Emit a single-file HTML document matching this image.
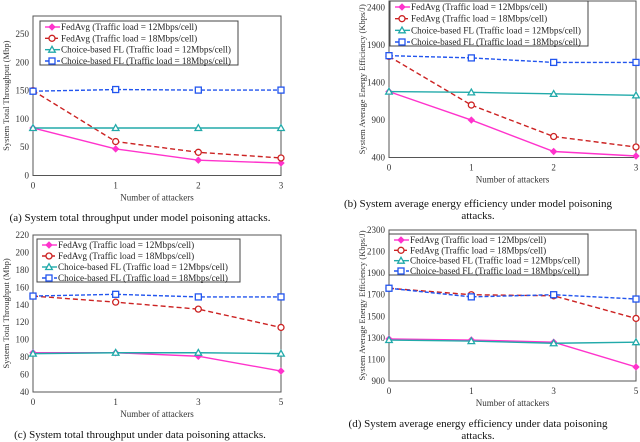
<!DOCTYPE html>
<html><head><meta charset="utf-8"><style>
body{margin:0;background:#fff}
svg{display:block;font-family:"Liberation Serif",serif}
</style></head><body>
<svg id="s" width="640" height="442" viewBox="0 0 640 442"></svg>
<script>
const cats01=["0","1","2","3"];
const cats02=["0","1","3","5"];
const aF12=[84,47,27,22], aF18=[150,60,41,31], aC12=[84,84,84,84], aC18=[149,152,151,151];
const bF12=[1280,900,480,420], bF18=[1750,1100,680,540], bC12=[1280,1270,1250,1230], bC18=[1760,1730,1670,1670];
const cF12=[85,85,81,64], cF18=[150,143,135,114], cC12=[84,85,85,84], cC18=[150,152,149,149];
const dF12=[1290,1280,1260,1030], dF18=[1760,1700,1690,1480], dC12=[1280,1270,1250,1260], dC18=[1760,1680,1700,1660];
const aTicks=[0,50,100,150,200,250], bTicks=[400,900,1400,1900,2400];
const cTicks=[40,60,80,100,120,140,160,180,200,220], dTicks=[900,1100,1300,1500,1700,1900,2100,2300];
const legendLabels=["FedAvg (Traffic load = 12Mbps/cell)","FedAvg (Traffic load = 18Mbps/cell)","Choice-based FL (Traffic load = 12Mbps/cell)","Choice-based FL (Traffic load = 18Mbps/cell)"];
const NS="http://www.w3.org/2000/svg", S=document.getElementById('s');
function el(t,a,p){const e=document.createElementNS(NS,t);for(const k in a)e.setAttribute(k,a[k]);(p||S).appendChild(e);return e;}
const styles=[{c:"#ff33cc",d:"",m:"dia"},{c:"#cc2222",d:"5,3",m:"circ"},{c:"#22aaaa",d:"",m:"tri"},{c:"#2255ee",d:"4,2",m:"sq"}];
function marker(g,m,x,y,c){
 if(m==="dia"){el('path',{d:`M${x-3},${y}L${x},${y-3}L${x+3},${y}L${x},${y+3}Z`,fill:c,stroke:c},g);}
 else if(m==="circ"){el('circle',{cx:x,cy:y,r:3,fill:"#fff",stroke:c,"stroke-width":1.3},g);}
 else if(m==="tri"){el('path',{d:`M${x-3.3},${y+2.5}L${x},${y-3.3}L${x+3.3},${y+2.5}Z`,fill:"#fff",stroke:c,"stroke-width":1.3},g);}
 else {el('rect',{x:x-3,y:y-3,width:6,height:6,fill:"#fff",stroke:c,"stroke-width":1.3},g);}
}
function chart(o){
 const g=el('g',{});
 
 
 const sy=v=>o.y1-(v-o.vmin)/(o.vmax-o.vmin)*(o.y1-o.y0);
 const sx=i=>o.x0+i*(o.x1-o.x0)/(o.cats.length-1);
 el('rect',{x:o.x0,y:o.y0,width:o.x1-o.x0,height:o.y1-o.y0,fill:"none",stroke:"#555","stroke-width":1},g);
 o.ticks.forEach(t=>{const tx=el('text',{x:o.x0-4,y:sy(t)+3,"text-anchor":"end","font-size":9,fill:"#333"},g);tx.textContent=t;
  });
 o.cats.forEach((c,i)=>{const tx=el('text',{x:sx(i),y:o.y1+13,"text-anchor":"middle","font-size":9,fill:"#333"},g);tx.textContent=c;
  });
 const xl=el('text',{x:(o.x0+o.x1)/2,y:o.y1+25,"text-anchor":"middle","font-size":9,fill:"#333"},g);xl.textContent="Number of attackers";
 
 const cy=(o.y0+o.y1)/2, cx=o.x0-24;
 const yl=el('text',{x:cx,y:cy,"text-anchor":"middle","font-size":8.5,fill:"#333",transform:`rotate(-90 ${cx} ${cy})`},g);yl.textContent=o.ylab;
 
 o.series.forEach((s,k)=>{const st=styles[k];
  const sg=el('g',{},g);
  
  el('polyline',{points:s.map((v,i)=>sx(i)+","+sy(v)).join(" "),fill:"none",stroke:st.c,"stroke-width":1.4,"stroke-dasharray":st.d},sg);
  s.forEach((v,i)=>marker(sg,st.m,sx(i),sy(v),st.c));});
 const L=o.leg; const lg=el('g',{},g);
 
 el('rect',{x:L.x,y:L.y,width:L.w,height:L.h,fill:"#fff",stroke:"#444"},lg);
 legendLabels.forEach((t,k)=>{const st=styles[k],yy=L.y+5+k*(L.h-10)/3+1;
  el('line',{x1:L.x+5,x2:L.x+20,y1:yy,y2:yy,stroke:st.c,"stroke-width":1.4,"stroke-dasharray":st.d},lg);
  marker(lg,st.m,L.x+12,yy,st.c);
  const tx=el('text',{x:L.x+21,y:yy+3,"font-size":9.2,fill:"#222"},lg);tx.textContent=t;
  });
 o.cap.forEach((c,i)=>{const tx=el('text',{x:o.capx,y:o.capy+i*12,"text-anchor":"middle","font-size":11,fill:"#111"},g);tx.textContent=c;
  });
}
chart({name:"chart-a",x0:33,x1:281,y0:16,y1:175.5,vmin:0,vmax:282,ticks:aTicks,cats:cats01,series:[aF12,aF18,aC12,aC18],ylab:"System Total Throughput (Mbp)",leg:{x:40,y:21,w:198,h:44},cap:["(a) System total throughput under model poisoning attacks."],capx:140,capy:221});
chart({name:"chart-b",x0:389,x1:636,y0:1,y1:157.5,vmin:400,vmax:2490,ticks:bTicks,cats:cats01,series:[bF12,bF18,bC12,bC18],ylab:"System Average Energy Efficiency (Kbps/J)",leg:{x:390,y:1,w:198,h:45},cap:["(b) System average energy efficiency under model poisoning","attacks."],capx:478,capy:207});
chart({name:"chart-c",x0:33,x1:281,y0:235,y1:392,vmin:40,vmax:220,ticks:cTicks,cats:cats02,series:[cF12,cF18,cC12,cC18],ylab:"System Total Throughput (Mbp)",leg:{x:37,y:239,w:203,h:43},cap:["(c) System total throughput under data poisoning attacks."],capx:140,capy:438});
chart({name:"chart-d",x0:389,x1:636,y0:230,y1:381,vmin:900,vmax:2300,ticks:dTicks,cats:cats02,series:[dF12,dF18,dC12,dC18],ylab:"System Average Energy Efficiency (Kbps/J)",leg:{x:389,y:234,w:199,h:41},cap:["(d) System average energy efficiency under data poisoning","attacks."],capx:478,capy:427});
</script>
</body></html>
